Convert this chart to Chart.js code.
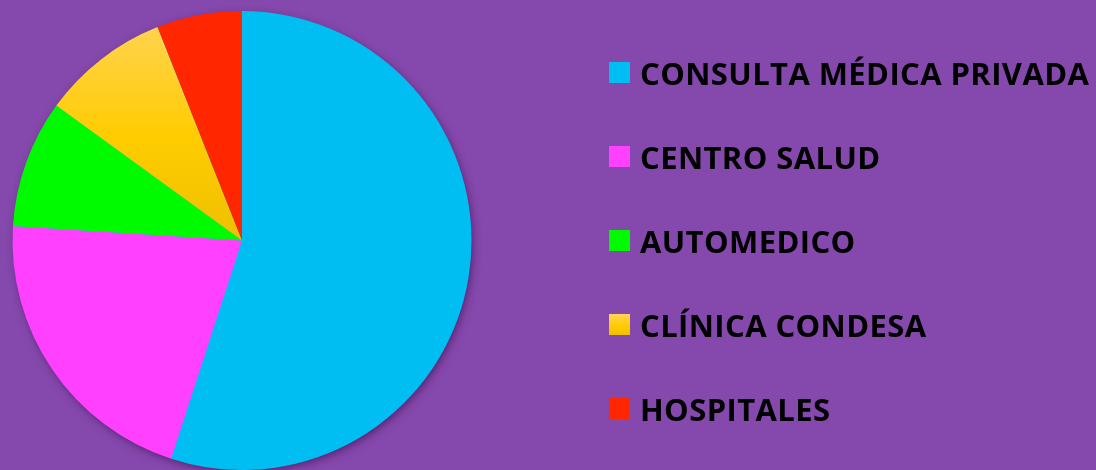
<!DOCTYPE html>
<html lang="es">
<head>
<meta charset="utf-8">
<title>Atención médica</title>
<script src="https://cdn.jsdelivr.net/npm/chart.js@4.4.0/dist/chart.umd.min.js"></script>
<style>
    html, body {
        margin: 0;
        padding: 0;
        background: #8548ac;
    }
    #wrap {
        position: relative;
        width: 1096px;
        height: 470px;
        overflow: hidden;
    }
    #legend {
        position: absolute;
        left: 609px;
        top: 62px;
        margin: 0;
        padding: 0;
        list-style: none;
        font-family: "Open Sans", sans-serif;
        font-weight: 700;
        font-size: 31px;
        line-height: 31px;
        letter-spacing: 0.4px;
        color: #000;
    }
    #legend li {
        position: relative;
        height: 84px;
    }
    #legend .box {
        position: absolute;
        left: 0;
        top: 0;
        width: 21px;
        height: 21px;
    }
    #legend .txt {
        position: absolute;
        left: 31px;
        top: -4px;
        white-space: nowrap;
    }
</style>
</head>
<body>
<div id="wrap">
    <canvas id="pieChart" width="1096" height="470"></canvas>
    <ul id="legend"></ul>
</div>
<script>
// Data (percent of answers)
const categories = ['CONSULTA MÉDICA PRIVADA', 'CENTRO SALUD', 'AUTOMEDICO', 'CLÍNICA CONDESA', 'HOSPITALES'];
const shares = [55, 21, 9, 9, 6];
const colors = ['#00bdf2', '#ff40ff', '#00fa00', '#ffcc00', '#ff2600'];

// yellow slice has a light-to-dark vertical gradient
function sliceColor(ctx) {
    const i = ctx.dataIndex;
    if (i !== 3) return colors[i];
    const chart = ctx.chart;
    const area = chart.chartArea;
    if (!area) return colors[i];
    const cy = (area.top + area.bottom) / 2;
    const g = chart.ctx.createLinearGradient(0, area.top, 0, cy);
    g.addColorStop(0, '#ffd45a');
    g.addColorStop(0.55, '#ffcc00');
    g.addColorStop(1, '#eec000');
    return g;
}

// soft drop shadow under the whole pie
const pieShadow = {
    id: 'pieShadow',
    beforeDatasetsDraw(chart) {
        const arc = chart.getDatasetMeta(0).data[0];
        if (!arc) return;
        const c = chart.ctx;
        c.save();
        c.shadowColor = 'rgba(40, 0, 60, 0.55)';
        c.shadowBlur = 9;
        c.shadowOffsetX = 2;
        c.shadowOffsetY = 3;
        c.fillStyle = '#00bdf2';
        c.beginPath();
        c.arc(arc.x, arc.y, arc.outerRadius - 1, 0, Math.PI * 2);
        c.fill();
        c.restore();
    }
};

new Chart(document.getElementById('pieChart'), {
    type: 'pie',
    data: {
        labels: categories,
        datasets: [{
            data: shares,
            backgroundColor: sliceColor,
            borderWidth: 0
        }]
    },
    options: {
        responsive: false,
        animation: false,
        layout: {
            padding: { left: 10, right: 622, top: 11, bottom: 0 }
        },
        plugins: {
            legend: { display: false },
            tooltip: { enabled: false }
        }
    },
    plugins: [pieShadow]
});

// legend on the right
const legend = document.getElementById('legend');
categories.forEach((name, i) => {
    const li = document.createElement('li');
    const box = document.createElement('span');
    box.className = 'box';
    box.style.background = i === 3
        ? 'linear-gradient(#ffd45a, #ffcc00 55%, #eec000)'
        : colors[i];
    const txt = document.createElement('span');
    txt.className = 'txt';
    txt.textContent = name;
    li.appendChild(box);
    li.appendChild(txt);
    legend.appendChild(li);
});
</script>
</body>
</html>
